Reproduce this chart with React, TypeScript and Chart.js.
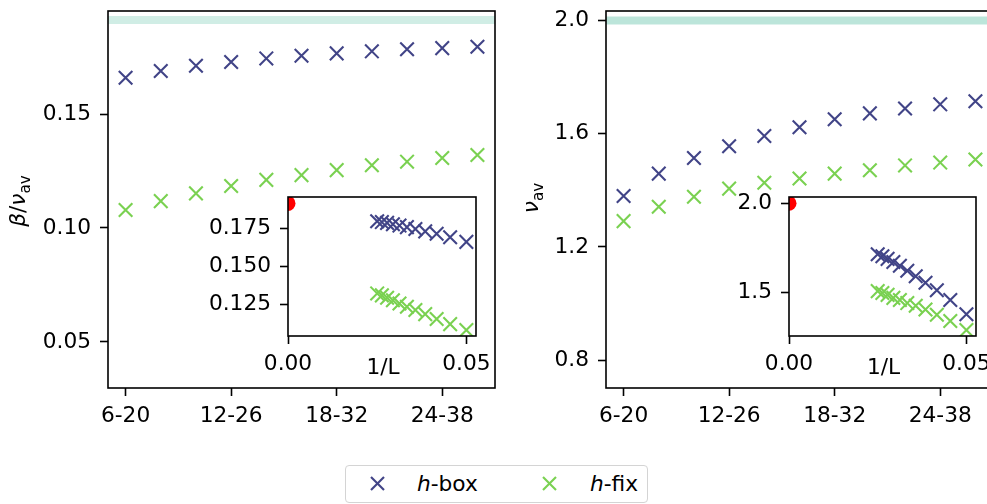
import React, { useEffect, useRef } from 'react';
import { Chart, registerables } from 'chart.js';
Chart.register(...registerables);

// ---------------- data ----------------
const categories = ['6-20', '8-22', '10-24', '12-26', '14-28', '16-30', '18-32', '20-34', '22-36', '24-38', '26-40'];
const largestL = [20, 22, 24, 26, 28, 30, 32, 34, 36, 38, 40];
const betaNuBox = [0.1659, 0.1689, 0.1712, 0.1728, 0.1744, 0.1756, 0.1766, 0.1775, 0.1784, 0.1789, 0.1795];
const betaNuFix = [0.1079, 0.1118, 0.1152, 0.1184, 0.1211, 0.1232, 0.1254, 0.1275, 0.1291, 0.1307, 0.1320];
const nuBox = [1.380, 1.459, 1.514, 1.556, 1.592, 1.623, 1.651, 1.672, 1.689, 1.704, 1.715];
const nuFix = [1.291, 1.342, 1.377, 1.406, 1.427, 1.442, 1.459, 1.471, 1.488, 1.498, 1.509];
const betaNuLimit = 0.1912;
const nuLimit = 2.0;
const mainTickIndices = [0, 3, 6, 9];
const betaNuTicks = [0.05, 0.10, 0.15];
const nuTicks = [0.8, 1.2, 1.6, 2.0];
const betaNuInsetTicks = [0.125, 0.150, 0.175];
const nuInsetTicks = [1.5, 2.0];
const insetXTicks = [0, 0.05];
const legendLabels = ['box', 'fix'];

// ---------------- styles ----------------
const BOX = '#414487';
const FIX = '#7ad151';
const FONT = '"DejaVu Sans", sans-serif';
const FS = 21.7;

const framePlugin = {
  id: 'frame',
  beforeDatasetsDraw(chart: any, _a: any, opts: any) {
    const { ctx, chartArea: a } = chart;
    if (opts && opts.white) {
      ctx.save();
      ctx.fillStyle = '#fff';
      ctx.fillRect(a.left, a.top, a.right - a.left, a.bottom - a.top);
      ctx.restore();
    }
  },
  afterDraw(chart: any, _a: any, opts: any) {
    const { ctx, chartArea: a } = chart;
    ctx.save();
    ctx.strokeStyle = '#000';
    ctx.lineWidth = 1.6;
    ctx.strokeRect(a.left, a.top, a.right - a.left, a.bottom - a.top);
    if (opts && opts.midLabel) {
      ctx.fillStyle = '#000';
      ctx.font = `${FS}px ${FONT}`;
      ctx.textAlign = 'center';
      ctx.textBaseline = 'middle';
      ctx.fillText(opts.midLabel, (a.left + a.right) / 2 + 1, a.bottom + 32);
    }
    ctx.restore();
  },
};

const ylabPlugin = {
  id: 'ylab',
  afterDraw(chart: any, _a: any, opts: any) {
    if (!opts || !opts.parts) return;
    const ctx = chart.ctx;
    const parts = opts.parts as { t: string; it?: boolean; sub?: boolean }[];
    const fontOf = (p: any) => `${p.it ? 'italic ' : ''}${p.sub ? FS * 0.7 : FS}px ${FONT}`;
    ctx.save();
    ctx.translate(opts.x, opts.y);
    ctx.rotate(-Math.PI / 2);
    ctx.fillStyle = '#000';
    ctx.textBaseline = 'alphabetic';
    ctx.textAlign = 'left';
    let total = 0;
    const widths = parts.map((p) => {
      ctx.font = fontOf(p);
      const w = ctx.measureText(p.t).width;
      total += w;
      return w;
    });
    let x = -total / 2;
    parts.forEach((p, i) => {
      ctx.font = fontOf(p);
      ctx.fillText(p.t, x, p.sub ? 5 : 0);
      x += widths[i];
    });
    ctx.restore();
  },
};

function makeChart(canvas: HTMLCanvasElement, s: any) {
  const tickGrid = {
    display: true,
    drawOnChartArea: false,
    drawTicks: true,
    tickLength: 8,
    tickWidth: 1.6,
    tickColor: '#000',
  };
  return new Chart(canvas, {
    type: 'scatter',
    data: { datasets: s.datasets },
    options: {
      responsive: false,
      animation: false,
      devicePixelRatio: 1,
      layout: { autoPadding: false, padding: s.padding },
      plugins: {
        legend: { display: false },
        tooltip: { enabled: false },
        frame: { white: !!s.white, midLabel: s.midLabel },
        ylab: s.ylab || {},
      } as any,
      scales: {
        x: {
          type: 'linear',
          min: s.xMin,
          max: s.xMax,
          afterBuildTicks: (sc: any) => {
            sc.ticks = s.xTicks.map((v: number) => ({ value: v }));
          },
          afterFit: (sc: any) => {
            sc.height = s.xH;
            sc.paddingLeft = 0;
            sc.paddingRight = 0;
            sc.paddingTop = 0;
            sc.paddingBottom = 0;
          },
          grid: tickGrid,
          border: { display: false },
          ticks: {
            padding: 7,
            autoSkip: false,
            maxRotation: 0,
            color: '#000',
            font: { family: FONT, size: FS },
            callback: (v: any) => s.xFmt(v),
          },
        },
        y: {
          type: 'linear',
          min: s.yMin,
          max: s.yMax,
          afterBuildTicks: (sc: any) => {
            sc.ticks = s.yTicks.map((v: number) => ({ value: v }));
          },
          afterFit: (sc: any) => {
            sc.width = s.yW;
            sc.paddingLeft = 0;
            sc.paddingRight = 0;
            sc.paddingTop = 0;
            sc.paddingBottom = 0;
          },
          grid: tickGrid,
          border: { display: false },
          ticks: {
            padding: 9,
            autoSkip: false,
            color: '#000',
            font: { family: FONT, size: FS },
            callback: (v: any) => s.yFmt(v),
          },
        },
      } as any,
    },
    plugins: [framePlugin, ylabPlugin],
  } as any);
}

const crossDs = (label: string, color: string, data: any[], clip?: number) => ({
  label,
  data,
  pointStyle: 'crossRot',
  pointRadius: 9.6,
  pointBorderWidth: 2.1,
  borderColor: color,
  backgroundColor: color,
  showLine: false,
  ...(clip !== undefined ? { clip } : {}),
});

const limitLine = (value: number, color: string) => ({
  label: 'limit',
  data: [
    { x: -0.5, y: value },
    { x: 10.5, y: value },
  ],
  showLine: true,
  borderColor: color,
  borderWidth: 8,
  pointRadius: 0,
  clip: 0,
});

const redDot = (value: number) => ({
  label: 'limit point',
  data: [{ x: 0, y: value }],
  pointStyle: 'circle',
  pointRadius: 7.5,
  pointBorderWidth: 0,
  backgroundColor: '#ff0000',
  borderColor: '#ff0000',
  showLine: false,
  clip: 0,
});

const mainPts = (vals: number[]) => vals.map((v, i) => ({ x: i, y: v }));
const insetPts = (vals: number[]) => vals.map((v, i) => ({ x: 1 / largestL[i], y: v }));

function XMark({ color }: { color: string }) {
  return (
    <svg width={15} height={15} style={{ position: 'absolute', left: -7.5, top: -7.5 }}>
      <line x1={1} y1={1} x2={14} y2={14} stroke={color} strokeWidth={2.1} />
      <line x1={14} y1={1} x2={1} y2={14} stroke={color} strokeWidth={2.1} />
    </svg>
  );
}

export default function App() {
  const c1 = useRef<HTMLCanvasElement>(null);
  const c2 = useRef<HTMLCanvasElement>(null);
  const c3 = useRef<HTMLCanvasElement>(null);
  const c4 = useRef<HTMLCanvasElement>(null);

  useEffect(() => {
    const mainX = {
      xMin: -0.5,
      xMax: 10.5,
      xTicks: mainTickIndices,
      xFmt: (v: number) => categories[v],
      xH: 52,
    };
    const insetX = {
      xMin: 0,
      xMax: 0.0527,
      xTicks: insetXTicks,
      xFmt: (v: number) => v.toFixed(2),
      xH: 49,
      white: true,
      midLabel: '1/L',
    };
    const charts = [
      makeChart(c1.current!, {
        ...mainX,
        datasets: [
          crossDs('h-box', BOX, mainPts(betaNuBox)),
          crossDs('h-fix', FIX, mainPts(betaNuFix)),
          limitLine(betaNuLimit, 'rgba(34,168,132,0.21)'),
        ],
        yMin: 0.0298,
        yMax: 0.1952,
        yTicks: betaNuTicks,
        yFmt: (v: number) => v.toFixed(2),
        yW: 108,
        padding: { left: 0, top: 11, right: 5, bottom: 0 },
        ylab: { x: 25, y: 201, parts: [{ t: 'β', it: true }, { t: '/' }, { t: 'ν', it: true }, { t: 'av', sub: true }] },
      }),
      makeChart(c2.current!, {
        ...mainX,
        datasets: [
          crossDs('h-box', BOX, mainPts(nuBox)),
          crossDs('h-fix', FIX, mainPts(nuFix)),
          limitLine(nuLimit, 'rgba(34,168,132,0.3)'),
        ],
        yMin: 0.701,
        yMax: 2.034,
        yTicks: nuTicks,
        yFmt: (v: number) => v.toFixed(1),
        yW: 106,
        padding: { left: 0, top: 11, right: 7, bottom: 0 },
        ylab: { x: 38, y: 198, parts: [{ t: 'ν', it: true }, { t: 'av', sub: true }] },
      }),
      makeChart(c3.current!, {
        ...insetX,
        datasets: [
          redDot(betaNuLimit),
          crossDs('h-box', BOX, insetPts(betaNuBox), 0),
          crossDs('h-fix', FIX, insetPts(betaNuFix), 0),
        ],
        yMin: 0.104,
        yMax: 0.1954,
        yTicks: betaNuInsetTicks,
        yFmt: (v: number) => v.toFixed(3),
        yW: 100,
        padding: { left: 0, top: 10, right: 32, bottom: 0 },
      }),
      makeChart(c4.current!, {
        ...insetX,
        datasets: [
          redDot(nuLimit),
          crossDs('h-box', BOX, insetPts(nuBox), 0),
          crossDs('h-fix', FIX, insetPts(nuFix), 0),
        ],
        yMin: 1.258,
        yMax: 2.035,
        yTicks: nuInsetTicks,
        yFmt: (v: number) => v.toFixed(1),
        yW: 100,
        padding: { left: 0, top: 10, right: 33, bottom: 0 },
      }),
    ];
    return () => charts.forEach((c) => c.destroy());
  }, []);

  const abs = (left: number, top: number): React.CSSProperties => ({ position: 'absolute', left, top });
  const textStyle: React.CSSProperties = {
    position: 'absolute',
    fontFamily: FONT,
    fontSize: FS,
    lineHeight: `${FS}px`,
    whiteSpace: 'nowrap',
    color: '#000',
  };

  return (
    <div style={{ position: 'fixed', left: 0, top: 0, width: 987, height: 504, overflow: 'hidden', background: '#fff' }}>
      <canvas ref={c1} width={500} height={440} style={abs(0, 0)} />
      <canvas ref={c2} width={500} height={440} style={abs(500, 0)} />
      <canvas ref={c3} width={320} height={198} style={abs(188, 187)} />
      <canvas ref={c4} width={320} height={198} style={abs(689, 187)} />
      <div
        style={{
          position: 'absolute',
          left: 345,
          top: 465,
          width: 303,
          height: 38,
          border: '1.5px solid #d4d4d4',
          borderRadius: 4,
          boxSizing: 'border-box',
          background: '#fff',
        }}
      >
        <div style={abs(31, 17)}>
          <XMark color={BOX} />
        </div>
        <div style={{ ...textStyle, left: 71, top: 7 }}>
          <span style={{ fontStyle: 'italic' }}>h</span>-{legendLabels[0]}
        </div>
        <div style={abs(203, 17)}>
          <XMark color={FIX} />
        </div>
        <div style={{ ...textStyle, left: 244, top: 7 }}>
          <span style={{ fontStyle: 'italic' }}>h</span>-{legendLabels[1]}
        </div>
      </div>
    </div>
  );
}
